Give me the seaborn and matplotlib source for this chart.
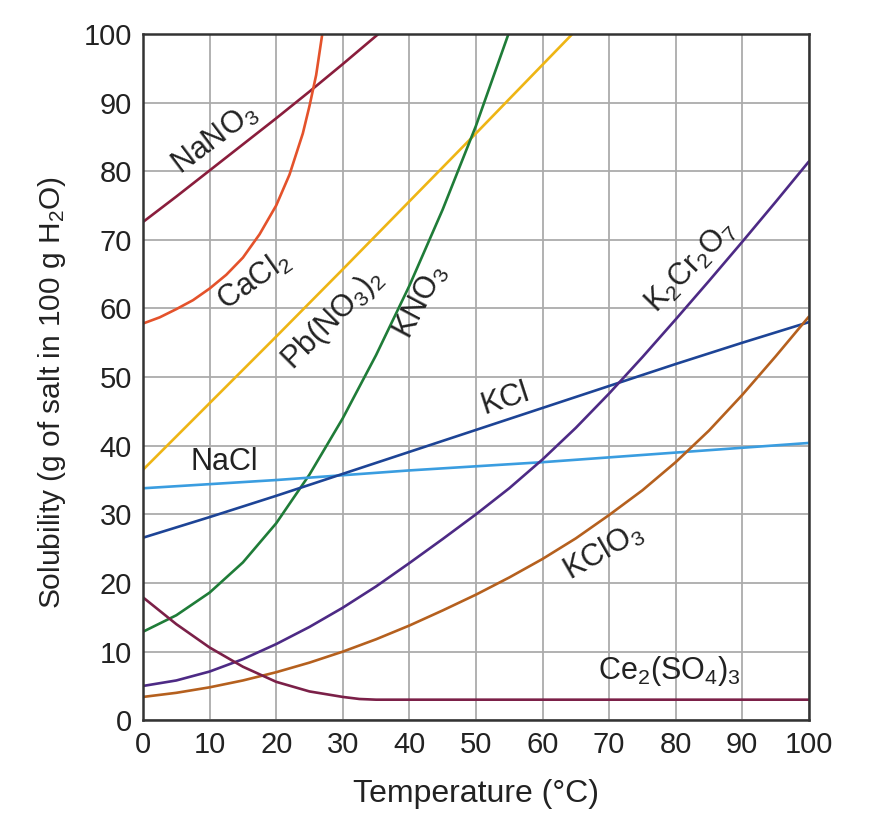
import matplotlib
matplotlib.use("Agg")
import matplotlib.pyplot as plt
import seaborn as sns
import pandas as pd

# solubility curves (g salt / 100 g water)
salts = ["NaNO3", "CaCl2", "Pb(NO3)2", "KNO3", "NaCl", "KCl", "K2Cr2O7", "KClO3", "Ce2(SO4)3"]

nano3_t = [0, 5, 10, 15, 20, 25, 30, 35, 36]
nano3_s = [72.6, 76.3, 80.1, 83.9, 87.7, 91.6, 95.6, 99.7, 100.5]

cacl2_t = [0, 2.5, 5, 7.5, 10, 12.5, 15, 17.5, 20, 22, 24, 25, 26, 27]
cacl2_s = [57.8, 58.7, 59.9, 61.2, 62.9, 64.9, 67.4, 70.8, 75.0, 79.5, 85.5, 89.5, 94.0, 100.5]

pbno3_t = [0, 10, 20, 30, 40, 50, 60, 64.6]
pbno3_s = [36.5, 46.2, 55.9, 65.7, 75.6, 85.5, 95.5, 100.1]

kno3_t = [0, 5, 10, 15, 20, 25, 30, 35, 40, 45, 50, 55]
kno3_s = [12.9, 15.3, 18.6, 23.0, 28.7, 35.8, 44.0, 53.2, 63.3, 74.4, 86.6, 100.3]

nacl_t = [0, 10, 20, 30, 40, 50, 60, 70, 80, 90, 100]
nacl_s = [33.8, 34.4, 35.0, 35.7, 36.4, 37.0, 37.6, 38.3, 39.0, 39.7, 40.4]

kcl_t = [0, 10, 20, 30, 40, 50, 60, 70, 80, 90, 100]
kcl_s = [26.6, 29.6, 32.7, 35.9, 39.1, 42.3, 45.5, 48.7, 51.9, 55.0, 58.0]

k2cr2o7_t = [0, 5, 10, 15, 20, 25, 30, 35, 40, 45, 50, 55, 60, 65, 70, 75, 80, 85, 90, 95, 100]
k2cr2o7_s = [5.0, 5.8, 7.1, 8.9, 11.1, 13.6, 16.4, 19.5, 22.9, 26.4, 30.0, 33.8, 38.0,
             42.6, 47.6, 52.9, 58.4, 64.0, 69.7, 75.5, 81.4]

kclo3_t = [0, 5, 10, 15, 20, 25, 30, 35, 40, 45, 50, 55, 60, 65, 70, 75, 80, 85, 90, 95, 100]
kclo3_s = [3.4, 4.0, 4.8, 5.8, 7.0, 8.4, 10.0, 11.8, 13.8, 16.0, 18.3, 20.8, 23.5,
           26.5, 29.9, 33.5, 37.6, 42.2, 47.4, 53.0, 58.8]

ce2so4_t = [0, 5, 10, 15, 20, 25, 30, 32.5, 35, 40, 50, 60, 70, 80, 90, 100]
ce2so4_s = [17.9, 14.0, 10.6, 7.8, 5.6, 4.2, 3.4, 3.1, 3.0, 3.0, 3.0, 3.0, 3.0, 3.0, 3.0, 3.0]

temps = [nano3_t, cacl2_t, pbno3_t, kno3_t, nacl_t, kcl_t, k2cr2o7_t, kclo3_t, ce2so4_t]
sols = [nano3_s, cacl2_s, pbno3_s, kno3_s, nacl_s, kcl_s, k2cr2o7_s, kclo3_s, ce2so4_s]

colors = ["#8a1d3c", "#e4522b", "#eeb514", "#1f7c38", "#3a9de0",
          "#1d4496", "#4d2a85", "#b5601e", "#7b2048"]

rows = []
for name, t, s in zip(salts, temps, sols):
    for a, b in zip(t, s):
        rows.append({"salt": name, "temp": a, "sol": b})
df = pd.DataFrame(rows)

sns.set_style("white")
plt.rcParams["font.family"] = ["Liberation Sans", "DejaVu Sans"]
plt.rcParams["mathtext.default"] = "regular"

fig = plt.figure(figsize=(8.83, 8.26), dpi=100)
ax = fig.add_axes([0.162, 0.128, 0.754, 0.831])

sns.lineplot(data=df, x="temp", y="sol", hue="salt", palette=dict(zip(salts, colors)),
             sort=False, estimator=None, legend=False, linewidth=1.9, ax=ax)

ax.set_xlim(0, 100)
ax.set_ylim(0, 100)
ax.set_xticks(range(0, 101, 10))
ax.set_yticks(range(0, 101, 10))
ax.grid(True, color="#ababab", linewidth=1.3)
ax.set_axisbelow(True)
for sp in ax.spines.values():
    sp.set_color("#333333")
    sp.set_linewidth(1.8)
ax.tick_params(labelsize=21, length=0, pad=8, colors="#222222")
ax.set_xlabel("Temperature (°C)", fontsize=23, color="#222222", labelpad=14)
ax.set_ylabel("Solubility (g of salt in 100 g H$_2$O)", fontsize=21.5, color="#222222")
ax.yaxis.set_label_coords(-0.113, 0.477)

labels = [
    ("NaNO$_3$", 10.8, 84.6, 37),
    ("CaCl$_2$", 16.6, 64.0, 35),
    ("Pb(NO$_3$)$_2$", 28.5, 58.4, 45),
    ("KNO$_3$", 41.8, 61.0, 62),
    ("K$_2$Cr$_2$O$_7$", 82.3, 66.1, 46),
    ("KCl", 54.4, 46.8, 18),
    ("NaCl", 12.2, 37.6, 0),
    ("KClO$_3$", 69.2, 24.6, 30),
    ("Ce$_2$(SO$_4$)$_3$", 79.0, 7.2, 0),
]
for txt, x, y, rot in labels:
    ax.text(x, y, txt, fontsize=22, rotation=rot, ha="center", va="center",
            color="#222222", rotation_mode="anchor")

fig.savefig("out.png", dpi=100)
